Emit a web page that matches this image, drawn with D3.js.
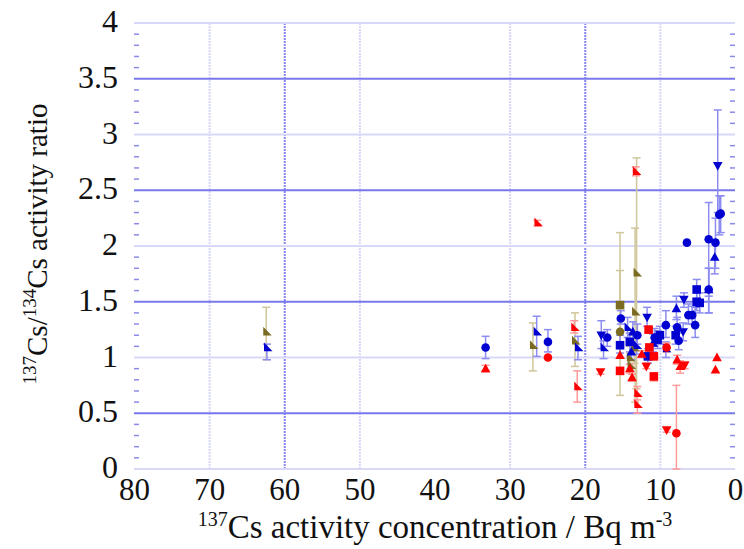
<!DOCTYPE html>
<html>
<head>
<meta charset="utf-8">
<script src="https://cdn.jsdelivr.net/npm/d3@7"></script>
<style>
body { margin: 0; background: #fff; }
text { font-family: "Liberation Serif", "Times New Roman", serif; }
</style>
</head>
<body>
<div id="chart"></div>
<script>
// tick values
const xTicks = [80, 70, 60, 50, 40, 30, 20, 10, 0];
const yTicks = [0, 0.5, 1, 1.5, 2, 2.5, 3, 3.5, 4];
const xGrid = [70, 60, 50, 30, 20, 10];
const xGridStrong = [60, 20];

// [137Cs conc, ratio, err low, err high, marker]
const olivePts = [
    [62.4, 1.23, 0.98, 1.45, "flag"],
    [26.9, 1.11, 0.88, 1.31, "flag"],
    [21.3, 1.15, 0.92, 1.40, "flag"],
    [15.3, 1.47, 0.66, 2.12, "square"],
    [15.3, 1.23, 1.10, 1.78, "circle"],
    [13.1, 1.76, 0.72, 2.79, "flag"],
    [13.3, 1.41, 0.60, 2.16, "flag"],
    [13.4, 1.09, 0.95, 1.20, "flag"],
    [14.0, 1.00, 0.90, 1.10, "flag"],
    [13.9, 0.93, null, null, "flag"]
];

const bluePts = [
    [62.3, 1.09, 0.98, 1.12, "flag"],
    [33.2, 1.09, 0.99, 1.19, "circle"],
    [26.4, 1.23, 1.01, 1.37, "flag"],
    [24.9, 1.14, 1.05, 1.25, "circle"],
    [20.9, 1.09, 0.98, 1.19, "flag"],
    [17.8, 1.20, 1.08, 1.33, "tridown"],
    [17.5, 1.09, 0.99, 1.15, "flag"],
    [17.0, 1.18, 1.10, 1.25, "circle"],
    [15.2, 1.35, 1.30, 1.42, "circle"],
    [15.3, 1.11, 1.04, 1.20, "square"],
    [14.3, 1.27, 1.18, 1.36, "flag"],
    [13.6, 1.23, 1.14, 1.32, "tri"],
    [13.0, 1.20, 1.12, 1.30, "circle"],
    [14.0, 1.14, 1.05, 1.22, "square"],
    [13.1, 1.11, 1.03, 1.19, "flag"],
    [13.8, 1.05, 0.98, 1.12, "tri"],
    [11.7, 1.36, 1.28, 1.45, "tridown"],
    [11.6, 1.01, 0.95, 1.08, "square"],
    [10.7, 1.18, 1.10, 1.26, "circle"],
    [10.3, 1.16, 1.08, 1.24, "square"],
    [10.9, 1.13, 1.05, 1.21, "tri"],
    [10.0, 1.20, 1.12, 1.28, "square"],
    [9.2, 1.29, 1.18, 1.42, "circle"],
    [9.2, 1.08, 1.00, 1.14, "flag"],
    [7.8, 1.44, 1.34, 1.55, "tri"],
    [7.7, 1.27, 1.18, 1.36, "circle"],
    [7.9, 1.20, 1.12, 1.28, "square"],
    [7.5, 1.15, 1.07, 1.22, "circle"],
    [6.8, 1.52, 1.45, 1.58, "tridown"],
    [6.2, 1.38, 1.30, 1.48, "circle"],
    [5.1, 1.61, 1.52, 1.70, "square"],
    [5.1, 1.50, 1.42, 1.58, "square"],
    [4.7, 1.49, 1.40, 1.58, "square"],
    [5.3, 1.29, 1.18, 1.45, "circle"],
    [5.7, 1.38, 1.30, 1.46, "circle"],
    [3.5, 1.61, 1.40, 1.80, "tri"],
    [2.7, 1.90, 1.75, 2.05, "tri"],
    [2.3, 2.72, 2.30, 3.22, "tridown"],
    [2.1, 2.28, 2.10, 2.45, "circle"],
    [1.9, 2.29, 2.12, 2.45, "circle"],
    [6.4, 2.03, null, null, "circle"],
    [3.5, 2.06, 1.55, 2.39, "circle"],
    [2.6, 2.03, 1.80, 2.25, "circle"],
    [3.5, 1.61, 1.40, 1.80, "circle"],
    [6.9, 1.23, 1.15, 1.31, "tridown"]
];

const redPts = [
    [33.2, 0.90, 0.87, 0.93, "tri"],
    [26.3, 2.21, 2.18, 2.23, "flag"],
    [24.9, 1.00, null, null, "circle"],
    [21.4, 1.27, 1.22, 1.33, "flag"],
    [21.0, 0.74, 0.60, 0.88, "flag"],
    [17.9, 0.87, 0.85, 0.89, "tridown"],
    [15.3, 1.02, null, null, "tri"],
    [15.3, 0.88, 0.85, 0.90, "square"],
    [13.2, 2.67, 2.63, 2.71, "flag"],
    [14.0, 0.90, 0.86, 0.94, "tri"],
    [13.7, 0.82, 0.79, 0.85, "tri"],
    [13.0, 0.68, 0.62, 0.74, "flag"],
    [13.0, 0.58, 0.50, 0.66, "flag"],
    [11.5, 1.25, null, null, "square"],
    [11.4, 1.09, null, null, "square"],
    [12.4, 1.03, 1.00, 1.06, "tri"],
    [11.8, 0.92, 0.90, 0.95, "tridown"],
    [10.8, 1.01, null, null, "square"],
    [10.8, 0.83, 0.79, 0.86, "square"],
    [9.1, 1.09, 1.05, 1.13, "circle"],
    [9.1, 0.35, 0.33, 0.37, "tridown"],
    [7.8, 0.32, 0.00, 0.75, "circle"],
    [7.7, 0.98, 0.94, 1.02, "tri"],
    [7.3, 0.92, 0.86, 0.97, "tri"],
    [6.7, 0.93, 0.90, 0.96, "tridown"],
    [2.4, 1.00, null, null, "tri"],
    [2.6, 0.89, null, null, "tri"]
];

const series = [
    {name: "olive", pts: olivePts, fill: "#7a6a22", err: "#cfc69a"},
    {name: "blue", pts: bluePts, fill: "#0000d0", err: "#8c8cf2"},
    {name: "red", pts: redPts, fill: "#ff0000", err: "#ff9a9a"}
];

const shapes = {
    circle: "M4.3,0A4.3,4.3 0 1,1 -4.3,0A4.3,4.3 0 1,1 4.3,0Z",
    square: "M-4.3,-4.3H4.3V4.3H-4.3Z",
    tri: "M0,-5L4.8,3.7H-4.8Z",
    tridown: "M0,5L4.8,-3.7H-4.8Z",
    flag: "M-3,-5L-3,3.7L5.5,3.7Z"
};

class RatioChart {
    constructor() {
        this.margin = {top: 23, right: 9, bottom: 80, left: 134};
        this.width = 744 - this.margin.left - this.margin.right;
        this.height = 549 - this.margin.top - this.margin.bottom;
        this.initVis();
    }

    initVis() {
        let vis = this;

        vis.svg = d3.select("#chart").append("svg")
            .attr("width", 744)
            .attr("height", 549);

        vis.g = vis.svg.append("g")
            .attr("transform", `translate(${vis.margin.left}, ${vis.margin.top})`);

        vis.x = d3.scaleLinear().domain([80, 0]).range([0, vis.width]);
        vis.y = d3.scaleLinear().domain([0, 4]).range([vis.height, 0]);

        // grid lines
        vis.g.selectAll(".vgrid")
            .data(xGrid)
            .enter().append("line")
            .attr("x1", d => vis.x(d) + 0.5).attr("x2", d => vis.x(d) + 0.5)
            .attr("y1", 0).attr("y2", vis.height)
            .attr("stroke", d => xGridStrong.includes(d) ? "#8585ee" : "#d6d6f8")
            .attr("stroke-width", 2)
            .attr("stroke-dasharray", "2,1");

        vis.g.selectAll(".hgrid")
            .data(yTicks)
            .enter().append("line")
            .attr("x1", 0).attr("x2", vis.width)
            .attr("y1", d => vis.y(d)).attr("y2", d => vis.y(d))
            .attr("stroke", d => (d % 1 === 0.5) ? "#7878ec" : "#d8d8f8")
            .attr("stroke-width", 2);

        // minor ticks every 0.1 on both sides
        let minor = d3.range(1, 40).map(d => d / 10).filter(d => Math.abs(d * 2 - Math.round(d * 2)) > 1e-6);
        [[0, 5], [vis.width - 5, vis.width]].forEach(([a, b]) => {
            vis.g.append("g").selectAll("line")
                .data(minor)
                .enter().append("line")
                .attr("x1", a).attr("x2", b)
                .attr("y1", d => vis.y(d)).attr("y2", d => vis.y(d))
                .attr("stroke", "#8a8ae8")
                .attr("stroke-width", 1.5);
        });

        // axes (labels only)
        let xAxis = d3.axisBottom(vis.x).tickValues(xTicks).tickSize(0).tickPadding(9).tickFormat(d => d);
        let yAxis = d3.axisLeft(vis.y).tickValues(yTicks).tickSize(0).tickPadding(16).tickFormat(d => d);

        vis.g.append("g")
            .attr("transform", `translate(0, ${vis.height})`)
            .call(xAxis)
            .call(g => g.select(".domain").remove())
            .attr("font-size", 31)
            .attr("font-family", "Liberation Serif, Times New Roman, serif");

        vis.g.append("g")
            .call(yAxis)
            .call(g => g.select(".domain").remove())
            .call(g => g.selectAll("text").attr("dy", "0.27em"))
            .attr("font-size", 32)
            .attr("font-family", "Liberation Serif, Times New Roman, serif");

        vis.g.selectAll(".tick text").attr("fill", "#111");

        // axis titles
        let xt = vis.svg.append("text")
            .attr("x", 435).attr("y", 538)
            .attr("text-anchor", "middle")
            .attr("font-size", 33)
            .attr("fill", "#111");
        xt.append("tspan").attr("font-size", 20).attr("dy", -12).text("137");
        xt.append("tspan").attr("dy", 12).text("Cs activity concentration / Bq m");
        xt.append("tspan").attr("font-size", 20).attr("dy", -12).text("-3");

        let yt = vis.svg.append("text")
            .attr("transform", "translate(47, 244) rotate(-90)")
            .attr("text-anchor", "middle")
            .attr("font-size", 29)
            .attr("fill", "#111");
        yt.append("tspan").attr("font-size", 19).attr("dy", -11).text("137");
        yt.append("tspan").attr("dy", 11).text("Cs/");
        yt.append("tspan").attr("font-size", 19).attr("dy", -11).text("134");
        yt.append("tspan").attr("dy", 11).text("Cs activity ratio");

        vis.renderVis();
    }

    renderVis() {
        let vis = this;

        // error bars first, behind all markers
        series.forEach(s => {
            let eb = vis.g.append("g").attr("stroke", s.err).attr("stroke-width", 1.5);
            let withErr = s.pts.filter(d => d[2] !== null);
            eb.selectAll(".bar")
                .data(withErr)
                .enter().append("line")
                .attr("x1", d => vis.x(d[0])).attr("x2", d => vis.x(d[0]))
                .attr("y1", d => vis.y(d[2])).attr("y2", d => vis.y(d[3]));
            [2, 3].forEach(k => {
                eb.selectAll(".cap" + k)
                    .data(withErr)
                    .enter().append("line")
                    .attr("x1", d => vis.x(d[0]) - 4).attr("x2", d => vis.x(d[0]) + 4)
                    .attr("y1", d => vis.y(d[k])).attr("y2", d => vis.y(d[k]));
            });
        });

        series.forEach(s => {
            vis.g.append("g").selectAll("path")
                .data(s.pts)
                .enter().append("path")
                .attr("d", d => shapes[d[4]])
                .attr("transform", d => `translate(${vis.x(d[0])}, ${vis.y(d[1])})`)
                .attr("fill", s.fill);
        });
    }
}

new RatioChart();
</script>
</body>
</html>
